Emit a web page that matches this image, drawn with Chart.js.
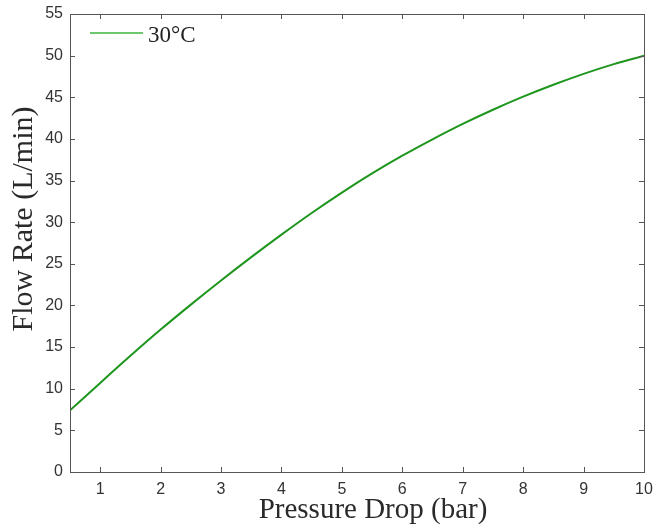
<!DOCTYPE html>
<html>
<head>
<meta charset="utf-8">
<script src="https://cdn.jsdelivr.net/npm/chart.js@4.4.0/dist/chart.umd.min.js"></script>
<style>
  html, body { margin: 0; padding: 0; background: #fff; }
  #wrap { width: 653px; height: 529px; }
</style>
</head>
<body>
<div id="wrap"><canvas id="grafica" width="653" height="529"></canvas></div>
<script>
// pressure drop (bar) and flow rate (L/min)
var presion = [0.5, 1, 1.5, 2, 2.5, 3, 3.5, 4, 4.5, 5, 5.5, 6, 6.5, 7, 7.5, 8, 8.5, 9, 9.5, 10]
var caudal = [7.4, 10.7, 13.95, 17.1, 20.1, 23.0, 25.8, 28.5, 31.1, 33.55, 35.85, 37.98, 39.95, 41.8, 43.5, 45.07, 46.5, 47.81, 48.98, 50.0]
var xTicks = [1, 2, 3, 4, 5, 6, 7, 8, 9, 10]
var yTicks = [0, 5, 10, 15, 20, 25, 30, 35, 40, 45, 50, 55]
var etiqueta = '30\u00B0C'
var tituloX = 'Pressure Drop (bar)'
var tituloY = 'Flow Rate (L/min)'

var puntos = []
for (var i = 0; i < presion.length; i++) {
    puntos.push({x: presion[i], y: caudal[i]})
}

// matlab style box, inward ticks, axis titles and legend
const marco = {
    id: 'marco',
    afterDatasetsDraw(chart) {
        const ctx = chart.ctx
        const a = chart.chartArea
        const sx = chart.scales.x
        const sy = chart.scales.y
        ctx.save()
        ctx.strokeStyle = '#555'
        ctx.lineWidth = 1
        ctx.strokeRect(Math.round(a.left) + 0.5, Math.round(a.top) + 0.5, Math.round(a.right - a.left), Math.round(a.bottom - a.top))
        ctx.beginPath()
        xTicks.forEach(function(v){
            var px = Math.round(sx.getPixelForValue(v)) + 0.5
            ctx.moveTo(px, a.bottom); ctx.lineTo(px, a.bottom - 5)
            ctx.moveTo(px, a.top); ctx.lineTo(px, a.top + 5)
        })
        yTicks.forEach(function(v){
            var py = Math.round(sy.getPixelForValue(v)) + 0.5
            ctx.moveTo(a.left, py); ctx.lineTo(a.left + 5, py)
            ctx.moveTo(a.right, py); ctx.lineTo(a.right - 5, py)
        })
        ctx.stroke()
        // axis titles
        ctx.fillStyle = '#2a2a2a'
        ctx.font = '29px "Liberation Serif"'
        ctx.textAlign = 'center'
        ctx.textBaseline = 'alphabetic'
        ctx.fillText(tituloX, 373, 518)
        ctx.save()
        ctx.font = '30px "Liberation Serif"'
        ctx.translate(32, 219)
        ctx.rotate(-Math.PI / 2)
        ctx.fillText(tituloY, 0, 0)
        ctx.restore()
        // legend
        ctx.strokeStyle = 'rgb(60, 180, 60)'
        ctx.lineWidth = 1.5
        ctx.beginPath()
        ctx.moveTo(a.left + 20, a.top + 19)
        ctx.lineTo(a.left + 73, a.top + 19)
        ctx.stroke()
        ctx.fillStyle = '#222'
        ctx.font = '23px "Liberation Serif"'
        ctx.textAlign = 'left'
        ctx.fillText(chart.data.datasets[0].label, a.left + 78, a.top + 28)
        ctx.restore()
    }
}

const ctx = document.getElementById('grafica')
const myChart = new Chart(ctx, {
    type: 'line',
    data: {
        datasets: [{
            label: etiqueta,
            data: puntos,
            borderColor: 'rgb(30, 150, 30)',
            borderWidth: 2,
            pointRadius: 0,
            cubicInterpolationMode: 'monotone',
            fill: false
        }]
    },
    options: {
        responsive: false,
        animation: false,
        layout: { padding: { top: 14, right: 9, left: 0, bottom: 0 } },
        plugins: { legend: { display: false }, tooltip: { enabled: false } },
        scales: {
            x: {
                type: 'linear',
                min: 0.5,
                max: 10,
                afterBuildTicks: function(s){ s.ticks = xTicks.map(function(v){ return {value: v} }) },
                afterFit: function(s){ s.height = 57; s.paddingLeft = 0; s.paddingRight = 0 },
                grid: { display: false, drawTicks: false },
                border: { display: false },
                ticks: { color: '#333', font: { family: 'Liberation Sans', size: 16 }, padding: 8, maxRotation: 0 }
            },
            y: {
                min: 0,
                max: 55,
                afterBuildTicks: function(s){ s.ticks = yTicks.map(function(v){ return {value: v} }) },
                afterFit: function(s){ s.width = 70; s.paddingTop = 0; s.paddingBottom = 0 },
                grid: { display: false, drawTicks: false },
                border: { display: false },
                ticks: { color: '#333', font: { family: 'Liberation Sans', size: 16 }, padding: 7 }
            }
        }
    },
    plugins: [marco]
});
</script>
</body>
</html>
